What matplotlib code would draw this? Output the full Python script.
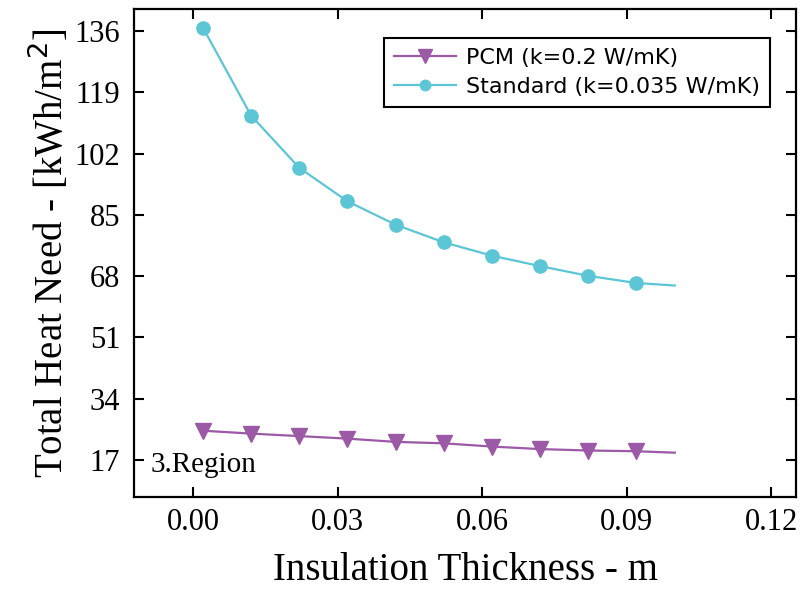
import matplotlib
matplotlib.use("Agg")
import matplotlib.pyplot as plt
import numpy as np

# insulation thickness (m) at the markers
thickness = [0.002, 0.012, 0.022, 0.032, 0.042, 0.052, 0.062, 0.072, 0.082, 0.092]
# total heat need, kWh/m2
pcm_need = [25.1, 24.3, 23.6, 22.9, 22.0, 21.6, 20.7, 20.0, 19.6, 19.4]
standard_need = [137.0, 112.6, 98.1, 88.8, 82.3, 77.4, 73.7, 70.8, 68.1, 66.1]
# the drawn curves run on to 0.1 m
line_end_x = 0.1
pcm_end = 19.0
standard_end = 65.4

xticks = [0.00, 0.03, 0.06, 0.09, 0.12]
yticks = [17, 34, 51, 68, 85, 102, 119, 136]

purple = "#9b59a6"
cyan = "#5cc6d6"
serif = "Liberation Serif"

fig = plt.figure(figsize=(8.05, 5.92), dpi=100)
ax = fig.add_axes([0.1665, 0.1605, 0.8225, 0.8245])

ax.plot(thickness + [line_end_x], pcm_need + [pcm_end], color=purple, lw=1.6)
ax.plot(thickness, pcm_need, ls="none", marker="v", ms=11.5, color=purple)
ax.plot(thickness + [line_end_x], standard_need + [standard_end], color=cyan, lw=1.6)
ax.plot(thickness, standard_need, ls="none", marker="o", ms=9.5, color=cyan)

# legend proxies so the line runs through the marker
h1, = ax.plot([], [], color=purple, lw=1.6, marker="v", ms=10, label="PCM (k=0.2 W/mK)")
h2, = ax.plot([], [], color=cyan, lw=1.6, marker="o", ms=7.5, label="Standard (k=0.035 W/mK)")

ax.set_xlim(-0.0123, 0.1252)
ax.set_ylim(6.7, 142.2)
ax.set_xticks(xticks)
ax.set_xticklabels(["%.2f" % v for v in xticks], fontfamily=serif, fontsize=22)
ax.set_yticks(yticks)
ax.set_yticklabels([str(v) for v in yticks], fontfamily=serif, fontsize=22)
ax.tick_params(direction="in", length=7, width=1.5, top=True, right=True)
ax.tick_params(axis="x", pad=8)
ax.tick_params(axis="y", pad=10)

for s in ax.spines.values():
    s.set_linewidth(1.6)

ax.set_xlabel("Insulation Thickness - m", fontfamily=serif, fontsize=28, labelpad=11)
ax.set_ylabel("Total Heat Need - [kWh/m$^2$]", fontfamily=serif, fontsize=28, labelpad=2)

ax.text(-0.0089, 13.7, "3.Region", fontfamily=serif, fontsize=21, ha="left", va="baseline")

leg = ax.legend(handles=[h1, h2], loc="upper right", bbox_to_anchor=(0.961, 0.941),
                borderaxespad=0, fancybox=False, framealpha=1, edgecolor="black",
                prop={"family": "DejaVu Sans", "size": 16}, handlelength=2.8,
                handletextpad=0.45, labelspacing=0.4, borderpad=0.45)
leg.get_frame().set_linewidth(1.5)

fig.savefig("out.png", dpi=100)
